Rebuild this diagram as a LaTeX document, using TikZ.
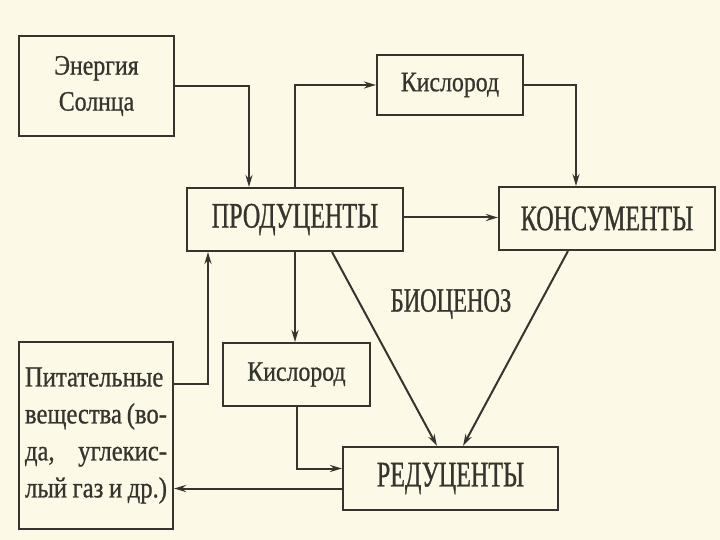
\documentclass[tikz,border=0pt]{standalone}
\usepackage{fontspec}
\setmainfont{Liberation Serif}
\newfontfamily\capsf[FakeStretch=0.67,FakeBold=0.8]{Liberation Serif}
\newfontfamily\lowf[FakeStretch=0.85,FakeBold=0.8]{Liberation Serif}
\usetikzlibrary{arrows.meta}
\definecolor{paper}{HTML}{FCFAE6}
\definecolor{ink}{HTML}{35342E}
\tikzset{
  box/.style={draw=ink, line width=2pt, rectangle, inner sep=0pt, text=ink},
  capbox/.style={box, font=\capsf\fontsize{36}{42}\selectfont},
  lowbox/.style={box, font=\lowf\fontsize{28}{36}\selectfont, align=center},
  arr/.style={draw=ink, line width=2pt, -{Stealth[length=12pt,width=7pt]}},
}
\begin{document}
\begin{tikzpicture}[x=1pt,y=-1pt]
\fill[paper] (0,0) rectangle (720,540);
\useasboundingbox (0,0) rectangle (720,540);

\node[lowbox, minimum width=155pt, minimum height=100pt] (E) at (96.5,86) {Энергия\\Солнца};
\node[lowbox, minimum width=146pt, minimum height=60pt] (K1) at (450,85) {Кислород};
\node[capbox, minimum width=216pt, minimum height=63pt] (P) at (295,219.5) {ПРОДУЦЕНТЫ};
\node[capbox, minimum width=216pt, minimum height=63pt] (K2) at (607,218.5) {КОНСУМЕНТЫ};
\node[lowbox, minimum width=147pt, minimum height=63pt] (KB) at (296.5,374.5) {Кислород};
\node[box, font=\lowf\fontsize{29}{37}\selectfont, minimum width=154pt, minimum height=187pt, align=left] (Pit) at (96,435.5)
  {\makebox[142pt][l]{Питательные}\\
   \makebox[142pt][s]{вещества (во-}\\
   \makebox[142pt][s]{да, углекис-}\\
   \makebox[142pt][s]{лый газ и др.)}};
\node[capbox, minimum width=215pt, minimum height=63pt] (R) at (450.5,478.5) {РЕДУЦЕНТЫ};
\node[text=ink, font=\capsf\fontsize{34}{40}\selectfont] (B) at (451,304) {БИОЦЕНОЗ};

\draw[arr] (E.east) -| ([xshift=-46pt]P.north);
\draw[arr] (P.north) |- (K1.west);
\draw[arr] (K1.east) -| ([xshift=-31pt]K2.north);
\draw[arr] ([yshift=2pt]P.east) -- ([yshift=2pt]P.east -| K2.west);
\draw[arr] (P.south) -- (P.south |- KB.north);
\draw[arr] ([yshift=52pt]Pit.east) -| ([xshift=-87pt]P.south);
\draw[arr] (KB.south) |- ([yshift=10pt]R.west);
\draw[arr] ([yshift=-10pt]R.west) -- ([yshift=-10pt]R.west -| Pit.east);
\draw[arr] ([xshift=37pt]P.south) -- ([xshift=-13.5pt]R.north);
\draw[arr] ([xshift=-39pt]K2.south) -- ([xshift=12.5pt]R.north);
\end{tikzpicture}
\end{document}
